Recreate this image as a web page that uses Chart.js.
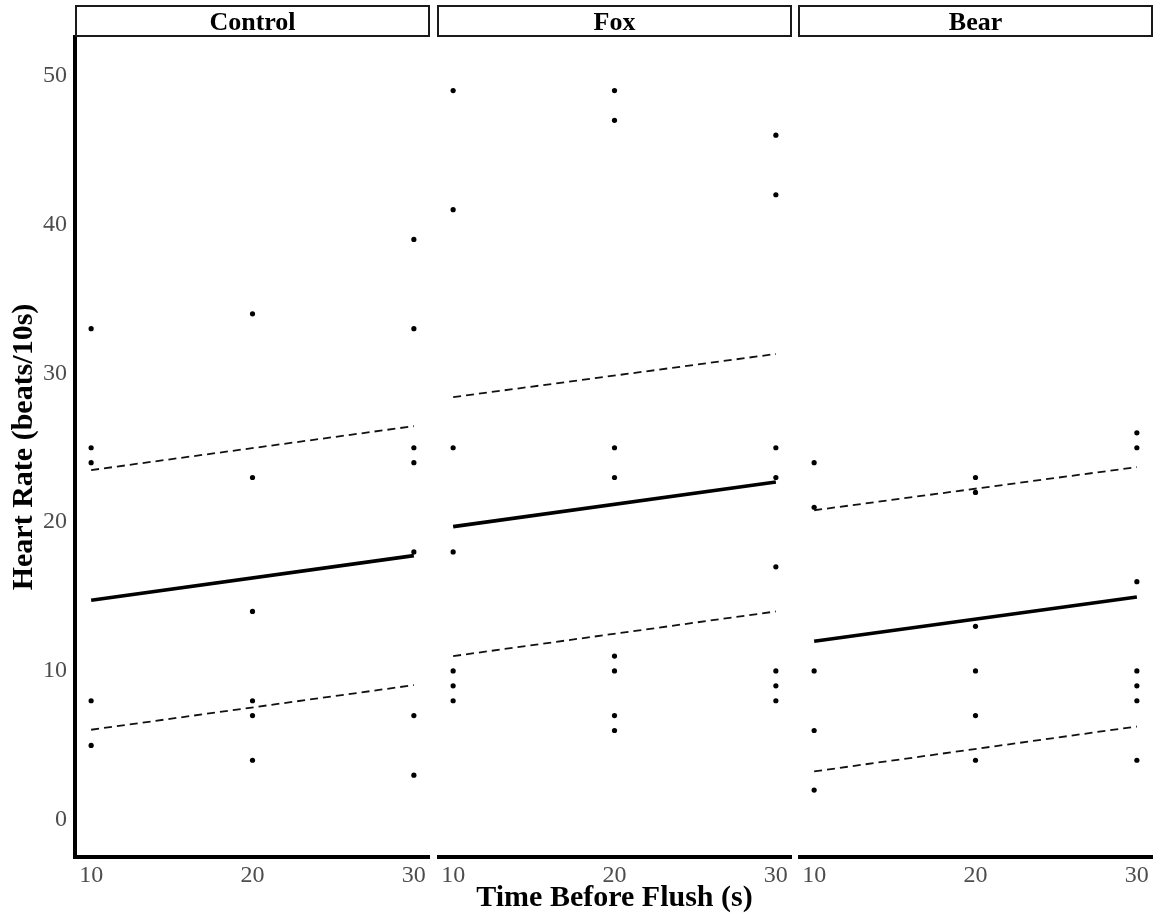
<!DOCTYPE html>
<html>
<head>
<meta charset="utf-8">
<title>Heart rate before flush</title>
<script src="https://cdn.jsdelivr.net/npm/chart.js@4.4.0/dist/chart.umd.min.js"></script>
<style>
  html, body { margin: 0; background: #fff; }
  #wrap { position: relative; width: 1161px; height: 919px; }
  canvas { position: absolute; top: 0; }
</style>
</head>
<body>
<div id="wrap">
  <canvas id="control" width="430" height="919" style="left:0"></canvas>
  <canvas id="fox" width="355" height="919" style="left:437px"></canvas>
  <canvas id="bear" width="355" height="919" style="left:798px"></canvas>
</div>
<script>
const times = [10, 20, 30]
const yTicks = [0, 10, 20, 30, 40, 50]
const fitEnds = [10, 30]

// heart rate readings, one list per time point (10 s, 20 s, 30 s)
const controlRates = [[33, 25, 24, 8, 5], [34, 23, 14, 8, 7, 4], [39, 33, 25, 24, 18, 7, 3]]
const foxRates = [[49, 41, 25, 18, 10, 9, 8], [49, 47, 25, 23, 11, 10, 7, 6], [46, 42, 25, 23, 17, 10, 9, 8]]
const bearRates = [[24, 21, 10, 6, 2], [23, 22, 13, 10, 7, 4], [26, 25, 16, 10, 9, 8, 4]]

// fitted trend and its band, value at 10 s and at 30 s
const controlFit = [14.75, 17.75]
const controlUpper = [23.5, 26.45]
const controlLower = [6.05, 9.05]
const foxFit = [19.7, 22.7]
const foxUpper = [28.4, 31.3]
const foxLower = [11.0, 14.0]
const bearFit = [12.0, 14.97]
const bearUpper = [20.8, 23.7]
const bearLower = [3.25, 6.27]

const SERIF = "'Liberation Serif', 'Times New Roman', serif"

// facet label box above each panel
const stripPlugin = {
  id: 'strip',
  afterDraw(chart, args, opts) {
    const { ctx, chartArea } = chart
    ctx.save()
    ctx.strokeStyle = '#1a1a1a'
    ctx.lineWidth = 2
    ctx.strokeRect(chartArea.left + 1, 6, chartArea.right - chartArea.left - 2, 30)
    ctx.fillStyle = '#000'
    ctx.font = 'bold 26px ' + SERIF
    ctx.textAlign = 'center'
    ctx.textBaseline = 'alphabetic'
    ctx.fillText(opts.text, (chartArea.left + chartArea.right) / 2, 30)
    ctx.restore()
  }
}

function toPoints(rates) {
  const pts = []
  rates.forEach((list, i) => {
    list.forEach(v => pts.push({ x: times[i], y: v }))
  })
  return pts
}

function toLine(vals) {
  return vals.map((v, i) => ({ x: fitEnds[i], y: v }))
}

function buildPanel(id, name, rates, fit, upper, lower, first) {
  const dashed = {
    type: 'line', showLine: true, pointRadius: 0,
    borderColor: '#111', borderWidth: 1.8, borderDash: [8, 5]
  }
  return new Chart(document.getElementById(id).getContext('2d'), {
    type: 'scatter',
    data: {
      datasets: [
        { data: toPoints(rates), pointRadius: 2.6, pointBackgroundColor: '#000', pointBorderWidth: 0 },
        Object.assign({ data: toLine(upper) }, dashed),
        Object.assign({ data: toLine(lower) }, dashed),
        { type: 'line', data: toLine(fit), showLine: true, pointRadius: 0, borderColor: '#000', borderWidth: 3.6 }
      ]
    },
    plugins: [stripPlugin],
    options: {
      responsive: false,
      animation: false,
      layout: { autoPadding: false, padding: { top: 37, left: 0, right: 0, bottom: 0 } },
      plugins: {
        legend: { display: false },
        tooltip: { enabled: false },
        strip: { text: name }
      },
      scales: {
        x: {
          type: 'linear',
          min: 9,
          max: 31,
          afterBuildTicks: scale => { scale.ticks = times.map(v => ({ value: v })) },
          afterFit: scale => { scale.height = 62; scale.paddingLeft = 0; scale.paddingRight = 0 },
          border: { display: true, color: '#000', width: 4 },
          grid: { drawOnChartArea: false, drawTicks: true, tickLength: 2, color: '#555' },
          ticks: { color: '#4d4d4d', padding: 2, font: { family: SERIF, size: 24 } },
          title: {
            display: name === 'Fox',
            text: 'Time Before Flush (s)',
            color: '#000',
            padding: { top: 0, bottom: 3 },
            font: { family: SERIF, size: 30, weight: 'bold' }
          }
        },
        y: {
          display: first,
          min: -2.5,
          max: 52.6,
          afterBuildTicks: scale => { scale.ticks = yTicks.map(v => ({ value: v })) },
          afterFit: scale => { scale.width = first ? 75 : 0 },
          border: { display: true, color: '#000', width: 4 },
          grid: { drawOnChartArea: false, drawTicks: true, tickLength: 2, color: '#555' },
          ticks: { color: '#4d4d4d', padding: 6, font: { family: SERIF, size: 24 } },
          title: {
            display: true,
            text: 'Heart Rate (beats/10s)',
            color: '#000',
            padding: { top: 6, bottom: 0 },
            font: { family: SERIF, size: 30, weight: 'bold' }
          }
        }
      }
    }
  })
}

buildPanel('control', 'Control', controlRates, controlFit, controlUpper, controlLower, true)
buildPanel('fox', 'Fox', foxRates, foxFit, foxUpper, foxLower, false)
buildPanel('bear', 'Bear', bearRates, bearFit, bearUpper, bearLower, false)
</script>
</body>
</html>
